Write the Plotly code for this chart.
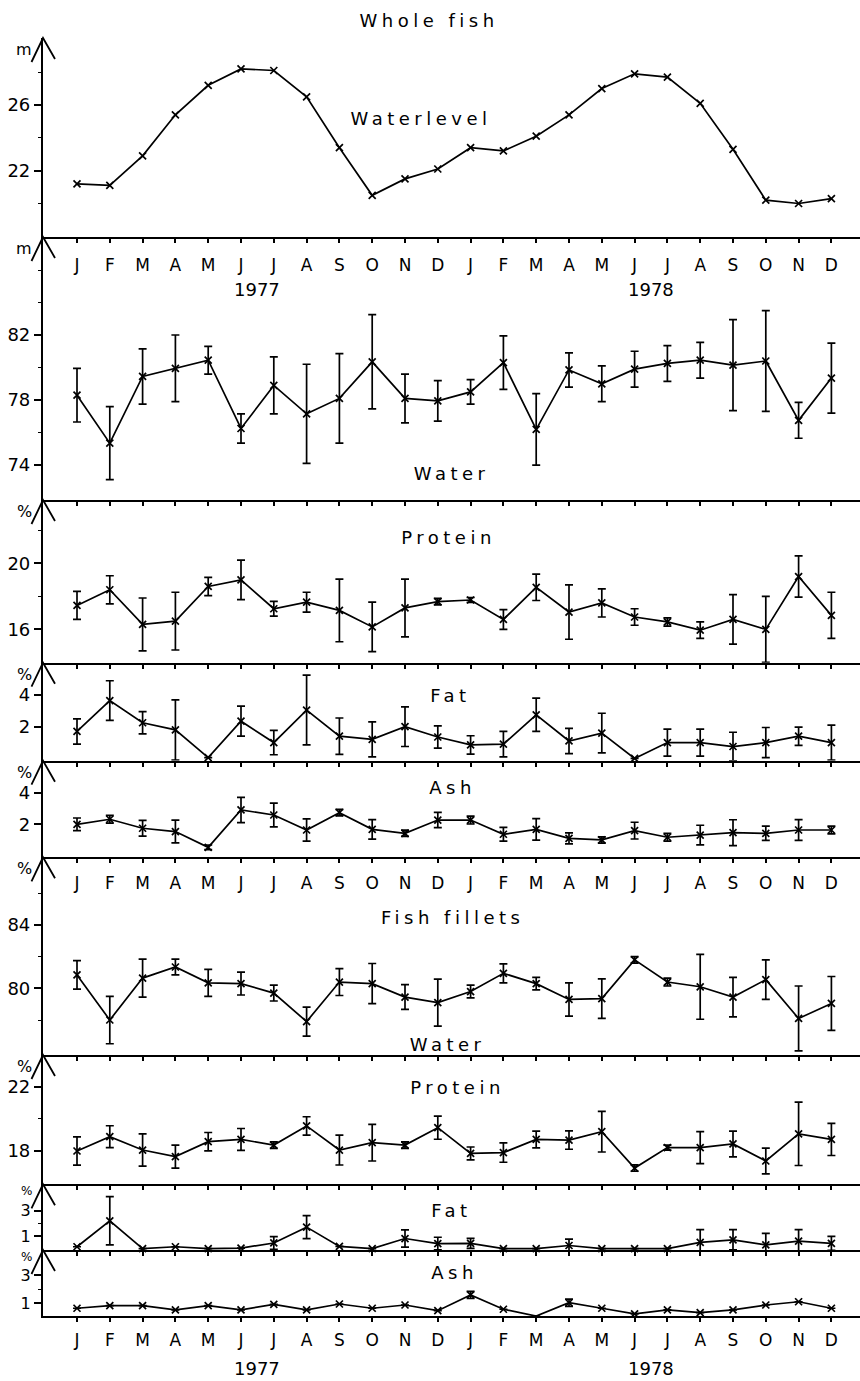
import plotly.graph_objects as go

# ---------------------------------------------------------------- data
months = ["J", "F", "M", "A", "M", "J", "J", "A", "S", "O", "N", "D"] * 2
years = ["1977", "1978"]

# Water level of the lake (m)
waterlevel = [21.2, 21.1, 22.9, 25.4, 27.2, 28.2, 28.1, 26.5, 23.4, 20.5, 21.5, 22.1,
              23.4, 23.2, 24.1, 25.4, 27.0, 27.9, 27.7, 26.1, 23.3, 20.2, 20.0, 20.3]

# Whole fish composition (mean and +/- spread)
whole_water = [78.3, 75.35, 79.45, 79.95, 80.45, 76.25, 78.9, 77.15, 78.1, 80.35, 78.1, 77.95,
               78.5, 80.3, 76.2, 79.85, 79.0, 79.9, 80.25, 80.45, 80.15, 80.4, 76.75, 79.35]
whole_water_err = [1.65, 2.25, 1.7, 2.05, 0.85, 0.9, 1.75, 3.05, 2.75, 2.9, 1.5, 1.25,
                   0.75, 1.65, 2.2, 1.05, 1.1, 1.1, 1.1, 1.1, 2.8, 3.1, 1.1, 2.15]

whole_protein = [17.45, 18.4, 16.3, 16.5, 18.6, 19.0, 17.25, 17.65, 17.15, 16.15, 17.3, 17.68,
                 17.78, 16.6, 18.55, 17.05, 17.6, 16.75, 16.45, 15.95, 16.6, 16.0, 19.2, 16.85]
whole_protein_err = [0.85, 0.85, 1.6, 1.75, 0.55, 1.2, 0.45, 0.6, 1.9, 1.5, 1.75, 0.2,
                     0.15, 0.6, 0.8, 1.65, 0.85, 0.5, 0.25, 0.5, 1.5, 2.0, 1.25, 1.4]

whole_fat = [1.7, 3.65, 2.25, 1.8, 0.05, 2.35, 1.0, 3.05, 1.4, 1.2, 2.0, 1.35,
             0.85, 0.9, 2.75, 1.1, 1.6, 0.0, 1.0, 1.0, 0.75, 1.0, 1.4, 1.0]
whole_fat_err = [0.8, 1.25, 0.7, 1.9, None, 0.95, 0.77, 2.2, 1.15, 1.1, 1.25, 0.7,
                 0.58, 0.8, 1.05, 0.8, 1.25, None, 0.85, 0.85, 0.9, 0.95, 0.58, 1.1]

whole_ash = [2.0, 2.32, 1.75, 1.54, 0.54, 2.91, 2.59, 1.64, 2.74, 1.68, 1.43, 2.27,
             2.27, 1.37, 1.68, 1.11, 1.01, 1.6, 1.18, 1.32, 1.47, 1.43, 1.64, 1.64]
whole_ash_err = [0.4, 0.25, 0.5, 0.72, 0.15, 0.8, 0.75, 0.7, 0.2, 0.62, 0.2, 0.48,
                 0.25, 0.44, 0.68, 0.35, 0.2, 0.53, 0.25, 0.62, 0.82, 0.45, 0.66, 0.25]

# Fish fillet composition (mean and +/- spread)
fillet_water = [80.85, 78.0, 80.65, 81.35, 80.35, 80.3, 79.7, 77.9, 80.4, 80.3, 79.45, 79.1,
                79.8, 80.95, 80.3, 79.3, 79.35, 81.8, 80.4, 80.1, 79.45, 80.55, 78.1, 79.05]
fillet_water_err = [0.9, 1.5, 1.2, 0.5, 0.85, 0.72, 0.5, 0.92, 0.85, 1.27, 0.78, 1.48,
                    0.4, 0.6, 0.4, 1.05, 1.25, 0.2, 0.25, 2.05, 1.25, 1.25, 2.05, 1.7]

fillet_protein = [18.0, 18.89, 18.06, 17.65, 18.58, 18.72, 18.37, 19.56, 18.06, 18.52, 18.37, 19.45,
                  17.85, 17.9, 18.72, 18.68, 19.2, 16.94, 18.21, 18.21, 18.44, 17.38, 19.07, 18.72]
fillet_protein_err = [0.88, 0.68, 1.0, 0.72, 0.57, 0.68, 0.2, 0.57, 0.93, 1.14, 0.2, 0.72,
                      0.4, 0.6, 0.52, 0.57, 1.26, 0.2, 0.15, 1.0, 0.8, 0.8, 1.97, 1.0]

fillet_fat = [0.15, 2.2, 0.0, 0.15, 0.0, 0.05, 0.45, 1.7, 0.18, 0.0, 0.8, 0.4,
              0.42, 0.0, 0.0, 0.25, 0.0, 0.0, 0.0, 0.5, 0.7, 0.3, 0.6, 0.42]
fillet_fat_err = [None, 1.9, None, None, None, None, 0.5, 0.9, None, None, 0.68, 0.5,
                  0.4, None, None, 0.5, None, None, None, 1.0, 0.8, 0.9, 0.9, 0.55]

fillet_ash = [0.65, 0.83, 0.83, 0.53, 0.83, 0.53, 0.93, 0.53, 0.95, 0.65, 0.88, 0.48,
              1.59, 0.58, 0.1, 1.04, 0.65, 0.25, 0.53, 0.34, 0.53, 0.88, 1.11, 0.65]
fillet_ash_err = [None, None, None, None, None, None, None, None, None, None, None, None,
                  0.25, None, None, 0.25, None, None, None, None, None, None, None, None]

# ---------------------------------------------------------------- layout helpers
W, H = 860, 1381
ML, MT, MR, MB = 43, 38, 0, 65
PW, PH = W - ML - MR, H - MT - MB
FONT = "DejaVu Sans"
INK = "black"
STEP = 32.8        # pixels between two months
FIRST = 77         # pixel position of the first month


def fx(px):
    """horizontal pixel -> paper fraction"""
    return (px - ML) / PW


def fy(py):
    """vertical pixel -> paper fraction"""
    return (H - MB - py) / PH


# one entry per stacked panel: series, pixel band, axis range, ticks, labels
panels = [
    dict(y=waterlevel, err=None, band=(38, 237), rng=(17.96, 30.08),
         ticks=[22, 26], minor=[20, 24, 28], unit="m", name="Waterlevel", at=(421, 118),
         months=True, standoff=8),
    dict(y=whole_water, err=whole_water_err, band=(237, 500), rng=(71.85, 88.03),
         ticks=[74, 78, 82], minor=[76, 80, 84, 86], unit="m", name="Water", at=(452, 473)),
    dict(y=whole_protein, err=whole_protein_err, band=(500, 662.7), rng=(13.98, 23.84),
         ticks=[16, 20], minor=[18, 22], unit="%", name="Protein", at=(448, 537)),
    dict(y=whole_fat, err=whole_fat_err, band=(662.7, 760.7), rng=(-0.145, 6.04),
         ticks=[2, 4], minor=[], unit="%", name="Fat", at=(450, 695)),
    dict(y=whole_ash, err=whole_ash_err, band=(760.7, 857.3), rng=(-0.09, 6.03),
         ticks=[2, 4], minor=[], unit="%", name="Ash", at=(452, 787),
         months=True, standoff=5),
    dict(y=fillet_water, err=fillet_water_err, band=(857.3, 1055), rng=(75.79, 88.28),
         ticks=[80, 84], minor=[78, 82, 86], unit="%", name="Water", at=(448, 1044)),
    dict(y=fillet_protein, err=fillet_protein_err, band=(1055, 1184.3), rng=(15.93, 23.97),
         ticks=[18, 22], minor=[20], unit="%", name="Protein", at=(457, 1087)),
    dict(y=fillet_fat, err=fillet_fat_err, band=(1184.3, 1250), rng=(-0.105, 5.08),
         ticks=[1, 3], minor=[2], unit="%", name="Fat", at=(451, 1210), tight=True),
    dict(y=fillet_ash, err=fillet_ash_err, band=(1250, 1316), rng=(0.104, 4.76),
         ticks=[1, 3], minor=[2], unit="%", name="Ash", at=(454, 1272),
         months=True, standoff=4, tight=True),
]

x_idx = list(range(len(months)))
x_range = [(ML - FIRST) / STEP, (W - MR - FIRST) / STEP]

fig = go.Figure()
layout = dict(
    width=W, height=H,
    margin=dict(l=ML, r=MR, t=MT, b=MB),
    paper_bgcolor="white", plot_bgcolor="white",
    showlegend=False,
    font=dict(family=FONT, color=INK, size=18),
)
shapes, annotations = [], []

for k, p in enumerate(panels, start=1):
    xa = "x" if k == 1 else f"x{k}"
    ya = "y" if k == 1 else f"y{k}"
    top, bot = p["band"]
    tight = p.get("tight", False)

    trace = dict(
        x=x_idx, y=p["y"], xaxis=xa, yaxis=ya, mode="lines+markers",
        line=dict(color=INK, width=1.7),
        marker=dict(symbol="x-thin", size=7, line=dict(color=INK, width=1.7), color=INK),
        cliponaxis=False,
    )
    if p["err"] is not None:
        trace["error_y"] = dict(type="data", array=p["err"], symmetric=True,
                                color=INK, thickness=1.7, width=4)
    fig.add_trace(go.Scatter(**trace))

    xaxis = dict(
        domain=[0, 1], anchor=ya, range=x_range,
        showline=True, linecolor=INK, linewidth=2,
        ticks="outside", ticklen=4, tickwidth=2, tickcolor=INK,
        tickmode="array", tickvals=x_idx, ticktext=months,
        showticklabels=bool(p.get("months")),
        tickfont=dict(size=17, family=FONT, color=INK),
        showgrid=False, zeroline=False,
    )
    if p.get("months"):
        xaxis["ticklabelstandoff"] = p["standoff"]
    if k > 1:
        xaxis["matches"] = "x"
    layout["xaxis" if k == 1 else f"xaxis{k}"] = xaxis

    layout["yaxis" if k == 1 else f"yaxis{k}"] = dict(
        domain=[fy(bot), fy(top)], anchor=xa, range=list(p["rng"]),
        showline=True, linecolor=INK, linewidth=2.2,
        ticks="outside", ticklen=7, tickwidth=1.6, tickcolor=INK,
        tickmode="array", tickvals=p["ticks"],
        tickfont=dict(size=16 if tight else 18, family=FONT, color=INK),
        minor=dict(tickmode="array", tickvals=p["minor"], ticks="outside",
                   ticklen=3, tickwidth=1.4, tickcolor=INK),
        showgrid=False, zeroline=False,
    )

    # open arrow head at the top of every vertical axis
    shapes.append(dict(
        type="path", xref="paper", yref="paper",
        path=(f"M {fx(31.5)} {fy(top + 24)} L {fx(ML)} {fy(top)} "
              f"L {fx(55)} {fy(top + 21)}"),
        line=dict(color=INK, width=1.8),
    ))
    # unit mark beside the arrow
    annotations.append(dict(
        text=p["unit"], xref="paper", yref="paper", x=fx(33),
        y=fy(top - 1 if tight else top + 1),
        xanchor="right", yanchor="top", showarrow=False,
        font=dict(size=12 if tight else 16, family=FONT, color=INK),
        borderpad=0,
    ))
    # component name inside the panel
    annotations.append(dict(
        text=p["name"], xref="paper", yref="paper", x=fx(p["at"][0]), y=fy(p["at"][1]),
        xanchor="center", yanchor="middle", showarrow=False,
        font=dict(size=18, family=FONT, color=INK),
    ))

# section headings
for text, cx, cy in [("Whole fish", 429, 20), ("Fish fillets", 452, 918)]:
    annotations.append(dict(
        text=text, xref="paper", yref="paper", x=fx(cx), y=fy(cy),
        xanchor="center", yanchor="middle", showarrow=False,
        font=dict(size=18, family=FONT, color=INK),
    ))

# year captions under the first and the last month rows
for xa_ref, cy in [("x", 290), ("x9", 1368)]:
    for yr, cx in zip(years, [5.5, 17.5]):
        annotations.append(dict(
            text=yr, xref=xa_ref, yref="paper", x=cx, y=fy(cy),
            xanchor="center", yanchor="middle", showarrow=False,
            font=dict(size=18, family=FONT, color=INK),
        ))

layout["shapes"] = shapes
layout["annotations"] = annotations
fig.update_layout(**layout)

# wide-tracked lettering for the word labels
spacing_js = """
document.querySelectorAll('.annotation-text').forEach(function (t) {
  var s = t.textContent;
  if (s.length > 2 && /[a-z]/i.test(s)) { t.style.letterSpacing = '4.5px'; }
});
"""
fig.write_html("out.html", post_script=spacing_js)
